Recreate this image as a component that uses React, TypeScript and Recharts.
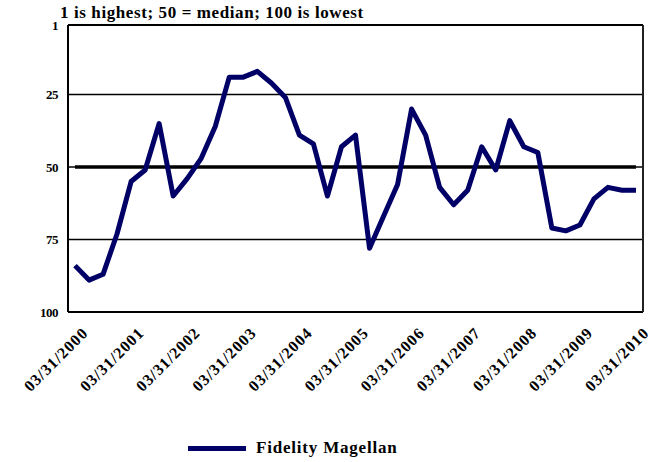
import { CartesianGrid, Legend, Line, LineChart, ReferenceLine, XAxis, YAxis } from 'recharts'

const categories = [
  '03/31/2000', '06/30/2000', '09/30/2000', '12/31/2000',
  '03/31/2001', '06/30/2001', '09/30/2001', '12/31/2001',
  '03/31/2002', '06/30/2002', '09/30/2002', '12/31/2002',
  '03/31/2003', '06/30/2003', '09/30/2003', '12/31/2003',
  '03/31/2004', '06/30/2004', '09/30/2004', '12/31/2004',
  '03/31/2005', '06/30/2005', '09/30/2005', '12/31/2005',
  '03/31/2006', '06/30/2006', '09/30/2006', '12/31/2006',
  '03/31/2007', '06/30/2007', '09/30/2007', '12/31/2007',
  '03/31/2008', '06/30/2008', '09/30/2008', '12/31/2008',
  '03/31/2009', '06/30/2009', '09/30/2009', '12/31/2009',
  '03/31/2010',
]

const magellanRank = [
  84, 89, 87, 73, 55, 51, 35, 60, 54, 47,
  36, 19, 19, 17, 21, 26, 39, 42, 60, 43,
  39, 78, 67, 56, 30, 39, 57, 63, 58, 43,
  51, 34, 43, 45, 71, 72, 70, 61, 57, 58,
  58,
]

const rankTicks = [1, 25, 50, 75, 100]
const MEDIAN = 50

const SERIES_NAME = 'Fidelity Magellan'
const TITLE = '1 is highest; 50 = median; 100 is lowest'
const NAVY = '#000066'
const FONT = 'Liberation Serif, DejaVu Serif, serif'

const data = categories.map((date, i) => ({ date, rank: magellanRank[i] }))

function DateTick({ x, y, payload }: any) {
  return (
    <g transform={`translate(${x + 14},${y + 22})`}>
      <text
        textAnchor="end"
        transform="rotate(-45)"
        style={{ fontFamily: FONT, fontWeight: 'bold', fontSize: 16, letterSpacing: 1 }}
        fill="#000"
      >
        {payload.value}
      </text>
    </g>
  )
}

function RankLegend() {
  return (
    <div style={{ display: 'flex', alignItems: 'center', fontFamily: FONT }}>
      <span style={{ display: 'inline-block', width: 58, height: 5, background: NAVY }} />
      <span style={{ marginLeft: 10, fontSize: 17, letterSpacing: 0.8, fontWeight: 'bold', color: '#000' }}>
        {SERIES_NAME}
      </span>
    </div>
  )
}

export default function App() {
  return (
    <div
      style={{
        position: 'absolute',
        left: 0,
        top: 0,
        width: 654,
        height: 462,
        background: '#fff',
        fontFamily: FONT,
      }}
    >
      <div
        style={{
          position: 'absolute',
          left: 60,
          top: 4,
          fontWeight: 'bold',
          fontSize: 17,
          letterSpacing: 0.6,
          lineHeight: '17px',
          whiteSpace: 'nowrap',
        }}
      >
        {TITLE}
      </div>
      <LineChart
        width={654}
        height={462}
        data={data}
        margin={{ top: 25, right: 0, left: 0, bottom: 0 }}
        style={{ fontFamily: FONT }}
      >
        <CartesianGrid horizontal vertical={false} stroke="#000" strokeWidth={1.5} />
        <XAxis
          dataKey="date"
          interval={3}
          tick={<DateTick />}
          tickLine={false}
          tickSize={0}
          tickMargin={0}
          height={150}
          padding={{ left: 7, right: 7 }}
          axisLine={{ stroke: '#000', strokeWidth: 2 }}
        />
        <YAxis
          type="number"
          domain={[1, 100]}
          reversed
          ticks={rankTicks}
          interval={0}
          width={68}
          tickLine={false}
          tickSize={0}
          tickMargin={10}
          axisLine={{ stroke: '#000', strokeWidth: 2 }}
          tick={{ style: { fontFamily: FONT, fontWeight: 'bold', fontSize: 13, letterSpacing: -0.5 }, fill: '#000' }}
        />
        <YAxis
          yAxisId="r"
          orientation="right"
          type="number"
          domain={[1, 100]}
          width={11}
          tick={false}
          tickLine={false}
          axisLine={{ stroke: '#222', strokeWidth: 2 }}
        />
        <ReferenceLine y={1} stroke="#000" strokeWidth={2} />
        <ReferenceLine
          segment={[
            { x: categories[0], y: MEDIAN },
            { x: categories[categories.length - 1], y: MEDIAN },
          ]}
          stroke="#000"
          strokeWidth={3.5}
        />
        <Line
          type="linear"
          dataKey="rank"
          name={SERIES_NAME}
          stroke={NAVY}
          strokeWidth={5}
          strokeLinejoin="round"
          dot={false}
          activeDot={false}
          isAnimationActive={false}
        />
        <Legend
          layout="horizontal"
          verticalAlign="middle"
          align="center"
          content={<RankLegend />}
          wrapperStyle={{ top: 438, left: 188, width: 'auto', height: 20 }}
        />
      </LineChart>
    </div>
  )
}
